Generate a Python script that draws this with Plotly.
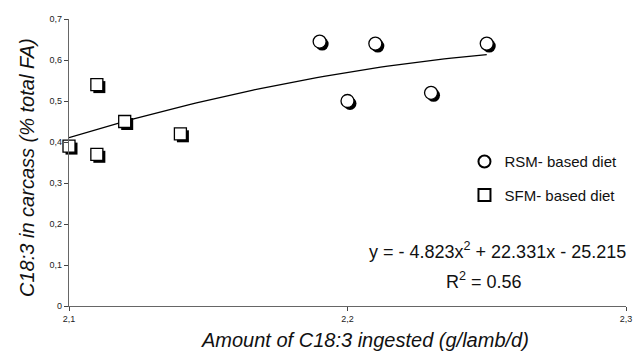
import numpy as np
import plotly.graph_objects as go

# Data
rsm_x = [2.19, 2.21, 2.20, 2.23, 2.25]
rsm_y = [0.645, 0.64, 0.50, 0.52, 0.64]
sfm_x = [2.10, 2.11, 2.11, 2.12, 2.14]
sfm_y = [0.39, 0.54, 0.37, 0.45, 0.42]
trend_coef = [-4.823, 22.331, -25.215]  # displayed equation
trend_range = [2.10, 2.25]

y_tickvals = [0, 0.1, 0.2, 0.3, 0.4, 0.5, 0.6, 0.7]
y_ticktext = ["0", "0,1", "0,2", "0,3", "0,4", "0,5", "0,6", "0,7"]
x_tickvals = [2.1, 2.2, 2.3]
x_ticktext = ["2,1", "2,2", "2,3"]
x_title = "Amount of C18:3 ingested (g/lamb/d)"
y_title = "C18:3 in carcass (% total FA)"

W, H = 643, 356
L, R, T, B = 69, 17, 19, 50
xr = [2.1, 2.3]
yr = [0, 0.7]
pw, ph = W - L - R, H - T - B
sx, sy = 2.5, 2.5  # shadow offset in px
dx = (xr[1] - xr[0]) / pw * sx
dy = (yr[1] - yr[0]) / ph * sy

tx = np.linspace(trend_range[0], trend_range[1], 60)
ty = np.polyval(trend_coef, tx)

FONT = "Liberation Sans, Arial"

fig = go.Figure()
fig.add_trace(go.Scatter(x=tx, y=ty, mode="lines", line=dict(color="black", width=1.3),
                         showlegend=False, hoverinfo="skip"))
# shadows (shifted overlay axes)
fig.add_trace(go.Scatter(x=rsm_x, y=rsm_y, mode="markers", xaxis="x2", yaxis="y2",
                         marker=dict(symbol="circle", size=13, color="black", line=dict(width=0)),
                         showlegend=False, cliponaxis=False, hoverinfo="skip"))
fig.add_trace(go.Scatter(x=sfm_x, y=sfm_y, mode="markers", xaxis="x2", yaxis="y2",
                         marker=dict(symbol="square", size=12, color="black", line=dict(width=0)),
                         showlegend=False, cliponaxis=False, hoverinfo="skip"))
# main markers (unshifted overlay axes drawn on top)
fig.add_trace(go.Scatter(x=rsm_x, y=rsm_y, mode="markers", name="RSM- based diet",
                         xaxis="x3", yaxis="y3", legendgroup="a",
                         marker=dict(symbol="circle", size=13, color="white", line=dict(color="black", width=1.3)),
                         cliponaxis=False))
fig.add_trace(go.Scatter(x=sfm_x, y=sfm_y, mode="markers", name="SFM- based diet",
                         xaxis="x3", yaxis="y3", legendgroup="b",
                         marker=dict(symbol="square", size=12, color="white", line=dict(color="black", width=1.3)),
                         cliponaxis=False))

axis_common = dict(showgrid=False, zeroline=False, ticks="outside", ticklen=4,
                   tickcolor="#444", linecolor="#666", linewidth=1.2, showline=True,
                   tickfont=dict(family=FONT, size=9, color="#222"))
fig.update_layout(
    width=W, height=H,
    margin=dict(l=L, r=R, t=T, b=B, autoexpand=False),
    plot_bgcolor="white", paper_bgcolor="white",
    xaxis=dict(range=xr, tickvals=x_tickvals, ticktext=x_ticktext, **axis_common),
    yaxis=dict(range=yr, tickvals=y_tickvals, ticktext=y_ticktext, **axis_common),
    xaxis2=dict(range=[xr[0] - dx, xr[1] - dx], overlaying="x", visible=False),
    yaxis2=dict(range=[yr[0] + dy, yr[1] + dy], overlaying="y", visible=False),
    xaxis3=dict(range=xr, overlaying="x", visible=False),
    yaxis3=dict(range=yr, overlaying="y", visible=False),
    legend=dict(x=0.71, y=0.56, xanchor="left", yanchor="top", bgcolor="rgba(0,0,0,0)",
                font=dict(family=FONT, size=15, color="#111"),
                itemsizing="constant", tracegroupgap=11),
    font=dict(family=FONT),
)
# axis titles
fig.add_annotation(xref="paper", yref="paper", x=0.531, y=-0.118, xanchor="center", yanchor="middle",
                   showarrow=False, text="<i>" + x_title + "</i>",
                   font=dict(family=FONT, size=20, color="#111"))
fig.add_annotation(xref="paper", yref="paper", x=-0.0754, y=0.481, xanchor="center", yanchor="middle",
                   showarrow=False, text="<i>" + y_title + "</i>", textangle=-90,
                   font=dict(family=FONT, size=20, color="#111"))
# trendline equation
fig.add_annotation(xref="paper", yref="paper", x=0.77, y=0.195, xanchor="center", yanchor="middle",
                   showarrow=False, text="y = - 4.823x<sup>2</sup> + 22.331x - 25.215",
                   font=dict(family=FONT, size=18, color="#111"))
fig.add_annotation(xref="paper", yref="paper", x=0.745, y=0.09, xanchor="center", yanchor="middle",
                   showarrow=False, text="R<sup>2</sup> = 0.56",
                   font=dict(family=FONT, size=18, color="#111"))
fig.write_html("out.html", post_script="document.body.style.margin='0px';",
               config={"displayModeBar": False})
